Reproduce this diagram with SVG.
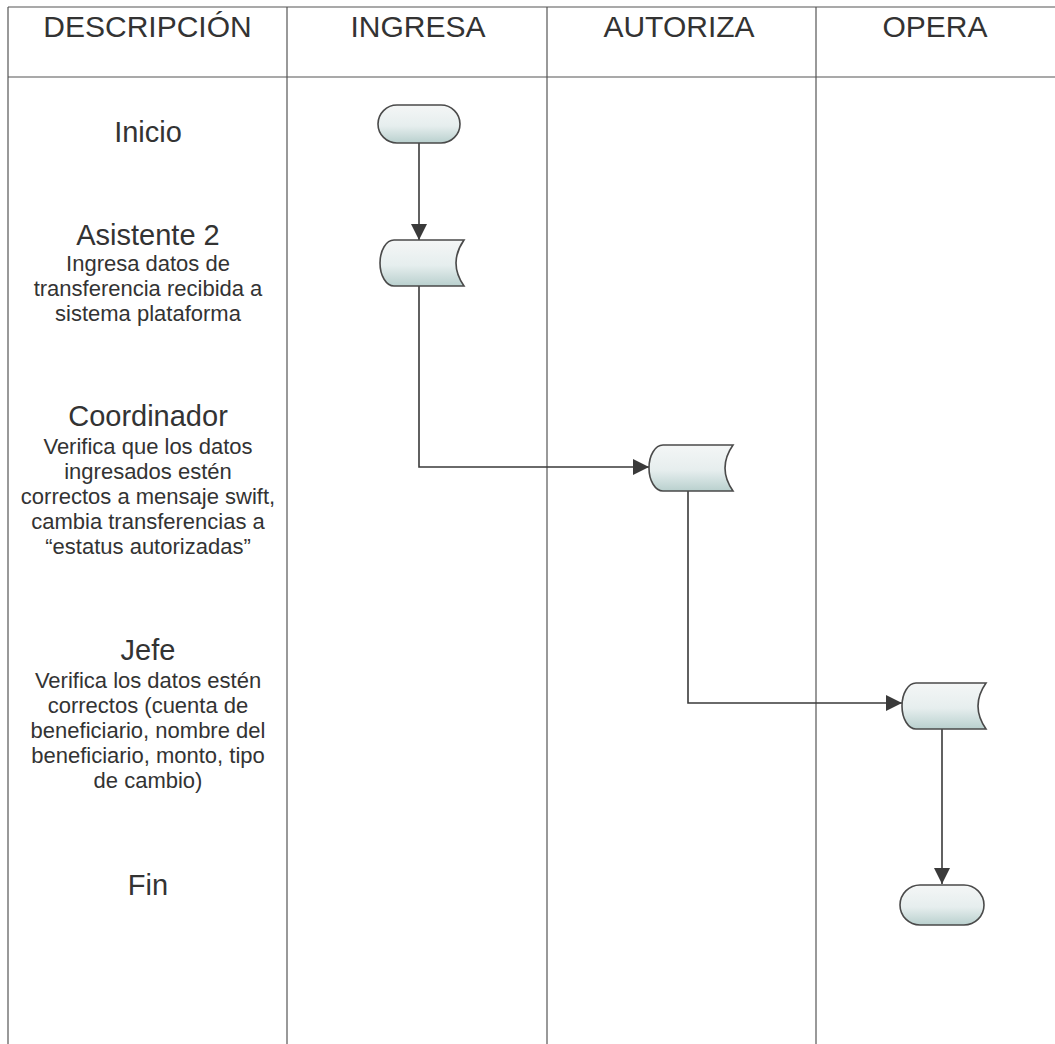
<svg xmlns="http://www.w3.org/2000/svg" width="1055" height="1044" viewBox="0 0 1055 1044">
  <defs>
    <linearGradient id="shapeFill" x1="0" y1="0" x2="0" y2="1">
      <stop offset="0" stop-color="#f4f6f6"/>
      <stop offset="0.55" stop-color="#e6eeee"/>
      <stop offset="1" stop-color="#b9d0ce"/>
    </linearGradient>
    <marker id="arrow" viewBox="0 0 16 16" refX="16" refY="8" markerWidth="16" markerHeight="16" markerUnits="userSpaceOnUse" orient="auto">
      <path d="M0,0 L16,8 L0,16 Z" fill="#3a3a3a"/>
    </marker>
    <!-- stored-data symbol: convex left side, concave right side -->
    <path id="store" d="M14,0 H84 Q68,23 84,46 H14 A14,23 0 0 1 14,0 Z"/>
  </defs>
  <style>
    .grid { stroke: #555; stroke-width: 1.2; fill: none; }
    .head { font-family: "Liberation Sans", Arial, sans-serif; font-size: 30px; fill: #333; text-anchor: middle; }
    .title { font-family: "Liberation Sans", Arial, sans-serif; font-size: 29px; fill: #333; text-anchor: middle; }
    .sub { font-family: "Liberation Sans", Arial, sans-serif; font-size: 22px; fill: #333; text-anchor: middle; }
    .shape { fill: url(#shapeFill); stroke: #4a4a4a; stroke-width: 1.6; }
    .flow { stroke: #3a3a3a; stroke-width: 1.6; fill: none; marker-end: url(#arrow); }
  </style>

  <rect width="1055" height="1044" fill="#ffffff"/>

  <!-- table grid -->
  <g id="table" class="grid">
    <line x1="8" y1="7" x2="1055" y2="7"/>
    <line x1="8" y1="77" x2="1055" y2="77"/>
    <line x1="8" y1="7" x2="8" y2="1044"/>
    <line x1="287" y1="7" x2="287" y2="1044"/>
    <line x1="547" y1="7" x2="547" y2="1044"/>
    <line x1="816" y1="7" x2="816" y2="1044"/>
  </g>

  <!-- column headers -->
  <g id="headers">
    <text class="head" x="147.5" y="37">DESCRIPCIÓN</text>
    <text class="head" x="418" y="37">INGRESA</text>
    <text class="head" x="679" y="37">AUTORIZA</text>
    <text class="head" x="935" y="37">OPERA</text>
  </g>

  <!-- step descriptions -->
  <g id="desc-inicio">
    <text class="title" x="148" y="142">Inicio</text>
  </g>
  <g id="desc-asistente">
    <text class="title" x="148" y="245">Asistente 2</text>
    <text class="sub" x="148" y="271">Ingresa datos de</text>
    <text class="sub" x="148" y="296">transferencia recibida a</text>
    <text class="sub" x="148" y="321">sistema plataforma</text>
  </g>
  <g id="desc-coordinador">
    <text class="title" x="148" y="426">Coordinador</text>
    <text class="sub" x="148" y="454">Verifica que los datos</text>
    <text class="sub" x="148" y="479">ingresados estén</text>
    <text class="sub" x="148" y="504">correctos a mensaje swift,</text>
    <text class="sub" x="148" y="529">cambia transferencias a</text>
    <text class="sub" x="148" y="554">“estatus autorizadas”</text>
  </g>
  <g id="desc-jefe">
    <text class="title" x="148" y="660">Jefe</text>
    <text class="sub" x="148" y="688">Verifica los datos estén</text>
    <text class="sub" x="148" y="713">correctos (cuenta de</text>
    <text class="sub" x="148" y="738">beneficiario, nombre del</text>
    <text class="sub" x="148" y="763">beneficiario, monto, tipo</text>
    <text class="sub" x="148" y="788">de cambio)</text>
  </g>
  <g id="desc-fin">
    <text class="title" x="148" y="895">Fin</text>
  </g>

  <!-- connectors -->
  <g id="connectors">
    <path class="flow" d="M419,143 V240"/>
    <path class="flow" d="M419,285 V467 H649"/>
    <path class="flow" d="M688,490 V703 H902"/>
    <path class="flow" d="M942,729 V884"/>
  </g>

  <!-- flow nodes -->
  <g id="node-inicio">
    <rect class="shape" x="378" y="105" width="82" height="38" rx="19"/>
  </g>
  <g id="node-ingresa">
    <use href="#store" class="shape" x="380" y="240"/>
  </g>
  <g id="node-autoriza">
    <use href="#store" class="shape" x="649" y="445"/>
  </g>
  <g id="node-opera">
    <use href="#store" class="shape" x="902" y="683"/>
  </g>
  <g id="node-fin">
    <rect class="shape" x="900" y="885" width="84" height="40" rx="20"/>
  </g>
</svg>
